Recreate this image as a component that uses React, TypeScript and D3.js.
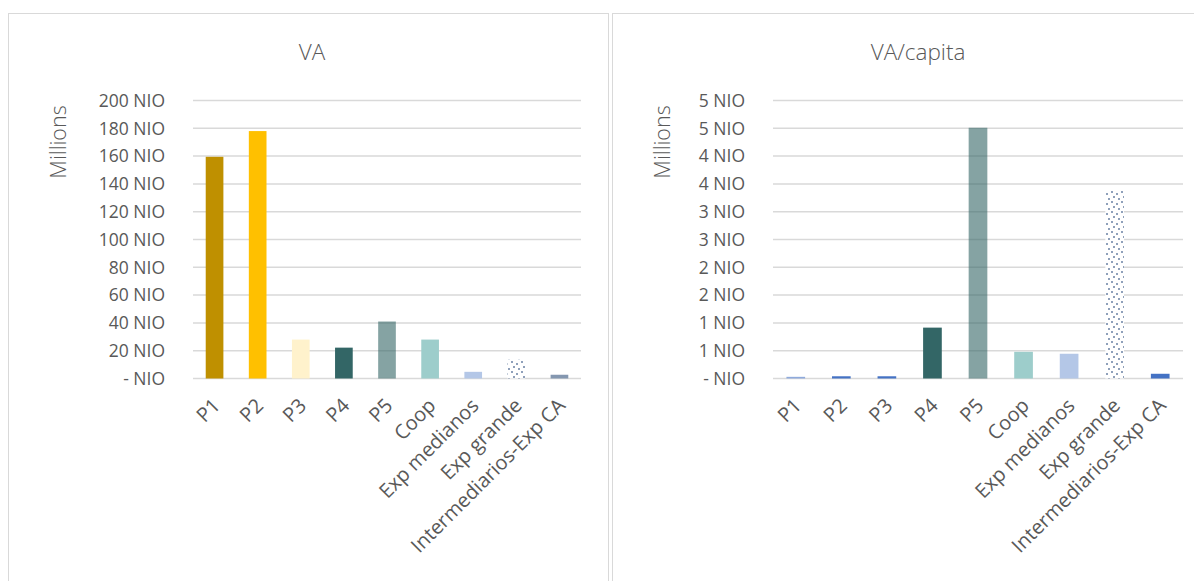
import React from "react";
import * as d3 from "d3";

// Categories shared by both panels
const categories = [
  "P1",
  "P2",
  "P3",
  "P4",
  "P5",
  "Coop",
  "Exp medianos",
  "Exp grande",
  "Intermediarios-Exp CA",
];

// Value added, millions NIO
const vaValues = [159.5, 178, 28, 22.2, 41, 28, 4.8, 13.5, 2.7];
// Value added per capita, millions NIO
const vaCapitaValues = [0.03, 0.04, 0.04, 0.915, 4.51, 0.48, 0.445, 3.39, 0.085];

// Axis ticks and their printed labels
const vaTicks = [0, 20, 40, 60, 80, 100, 120, 140, 160, 180, 200];
const vaTickLabels = [
  "- NIO",
  "20 NIO",
  "40 NIO",
  "60 NIO",
  "80 NIO",
  "100 NIO",
  "120 NIO",
  "140 NIO",
  "160 NIO",
  "180 NIO",
  "200 NIO",
];
const capTicks = [0, 0.5, 1, 1.5, 2, 2.5, 3, 3.5, 4, 4.5, 5];
const capTickLabels = [
  "- NIO",
  "1 NIO",
  "1 NIO",
  "2 NIO",
  "2 NIO",
  "3 NIO",
  "3 NIO",
  "4 NIO",
  "4 NIO",
  "5 NIO",
  "5 NIO",
];

// Bar fills per category
const vaColors = [
  "#BF9000",
  "#FFC000",
  "#FFF2CC",
  "#336666",
  "rgba(51,102,102,0.6)",
  "#9DCDCB",
  "#B4C7E7",
  "url(#dots)",
  "#8497B0",
];
const capColors = [
  "#8FAADC",
  "#4472C4",
  "#4472C4",
  "#336666",
  "rgba(51,102,102,0.6)",
  "#9DCDCB",
  "#B4C7E7",
  "url(#dots)",
  "#4472C4",
];

const FONT = "'Open Sans', 'Noto Sans', sans-serif";
const TEXT = "#595959";
const GRID = "#D9D9D9";

type PanelProps = {
  title: string;
  values: number[];
  colors: string[];
  ticks: number[];
  tickLabels: string[];
  max: number;
  titleX: number;
  x0: number;
  x1: number;
  labelRight: number;
  millionsX: number;
};

function Panel(p: PanelProps) {
  const y = d3.scaleLinear().domain([0, p.max]).range([378.5, 100.5]);
  const x = d3.scaleBand<string>().domain(categories).range([p.x0, p.x1]).padding(0);
  const barW = x.step() * 0.41;

  return (
    <g>
      <text
        x={p.titleX}
        y={60}
        textAnchor="middle"
        fontFamily={FONT}
        fontWeight={300}
        fontSize={22.5}
        fill={TEXT}
      >
        {p.title}
      </text>
      <text
        transform={`translate(${p.millionsX},${142}) rotate(-90)`}
        textAnchor="middle"
        fontFamily={FONT}
        fontWeight={300}
        fontSize={21.5}
        fill={TEXT}
      >
        Millions
      </text>
      {p.ticks.map((t, i) => (
        <g key={i}>
          <line x1={p.x0} x2={p.x1} y1={y(t)} y2={y(t)} stroke={GRID} strokeWidth={1.5} />
          <text
            x={p.labelRight}
            y={y(t)}
            dy="0.36em"
            textAnchor="end"
            fontFamily={FONT}
            fontSize={17.5}
            fill={TEXT}
          >
            {p.tickLabels[i]}
          </text>
        </g>
      ))}
      {categories.map((c, i) => {
        const cx = (x(c) as number) + x.bandwidth() / 2;
        return (
          <rect
            key={c}
            x={cx - barW / 2}
            width={barW}
            y={y(p.values[i])}
            height={y(0) - y(p.values[i])}
            fill={p.colors[i]}
          />
        );
      })}
      {categories.map((c) => {
        const cx = (x(c) as number) + x.bandwidth() / 2;
        return (
          <text
            key={c}
            transform={`translate(${cx - 3},${397}) rotate(-45)`}
            textAnchor="end"
            dy="0.7em"
            fontFamily={FONT}
            fontSize={20}
            fill={TEXT}
          >
            {c}
          </text>
        );
      })}
    </g>
  );
}

export default function App() {
  return (
    <div style={{ position: "absolute", left: 0, top: 0 }}>
      <svg width={1194} height={581} style={{ display: "block", background: "#fff" }}>
        <defs>
          <pattern id="dots" width={10} height={10} patternUnits="userSpaceOnUse">
            <rect width={10} height={10} fill="#fff" />
            <rect x={1} y={1} width={2} height={2} fill="#8FA0BA" />
            <rect x={6} y={3} width={2} height={2} fill="#8FA0BA" />
            <rect x={3} y={6} width={2} height={2} fill="#8FA0BA" />
            <rect x={8} y={8} width={2} height={2} fill="#8FA0BA" />
          </pattern>
        </defs>
        <rect x={8.5} y={13.5} width={600} height={600} fill="#fff" stroke={GRID} />
        <rect x={612.5} y={13.5} width={600} height={600} fill="#fff" stroke={GRID} />
        <Panel
          title="VA"
          values={vaValues}
          colors={vaColors}
          ticks={vaTicks}
          tickLabels={vaTickLabels}
          max={200}
          titleX={312}
          x0={193}
          x1={581}
          labelRight={165}
          millionsX={66}
        />
        <Panel
          title="VA/capita"
          values={vaCapitaValues}
          colors={capColors}
          ticks={capTicks}
          tickLabels={capTickLabels}
          max={5}
          titleX={918}
          x0={773}
          x1={1183}
          labelRight={745}
          millionsX={670}
        />
      </svg>
    </div>
  );
}
